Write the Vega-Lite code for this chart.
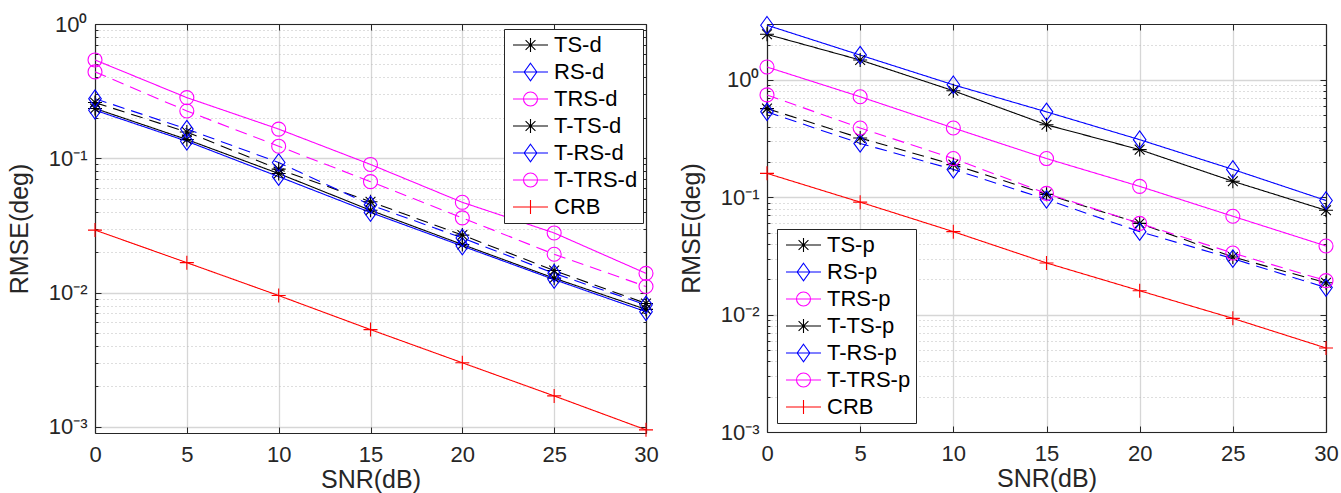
{
  "$schema": "https://vega.github.io/schema/vega-lite/v6.json",
  "datasets": {
    "left": [
      {"s": "TS-d", "x": 0, "y": 0.235}, {"s": "TS-d", "x": 5, "y": 0.138}, {"s": "TS-d", "x": 10, "y": 0.077}, {"s": "TS-d", "x": 15, "y": 0.041}, {"s": "TS-d", "x": 20, "y": 0.0228}, {"s": "TS-d", "x": 25, "y": 0.0128}, {"s": "TS-d", "x": 30, "y": 0.0075},
      {"s": "RS-d", "x": 0, "y": 0.228}, {"s": "RS-d", "x": 5, "y": 0.134}, {"s": "RS-d", "x": 10, "y": 0.073}, {"s": "RS-d", "x": 15, "y": 0.0395}, {"s": "RS-d", "x": 20, "y": 0.0222}, {"s": "RS-d", "x": 25, "y": 0.0125}, {"s": "RS-d", "x": 30, "y": 0.0072},
      {"s": "TRS-d", "x": 0, "y": 0.54}, {"s": "TRS-d", "x": 5, "y": 0.283}, {"s": "TRS-d", "x": 10, "y": 0.165}, {"s": "TRS-d", "x": 15, "y": 0.09}, {"s": "TRS-d", "x": 20, "y": 0.047}, {"s": "TRS-d", "x": 25, "y": 0.0278}, {"s": "TRS-d", "x": 30, "y": 0.0139},
      {"s": "T-TS-d", "x": 0, "y": 0.26}, {"s": "T-TS-d", "x": 5, "y": 0.157}, {"s": "T-TS-d", "x": 10, "y": 0.083}, {"s": "T-TS-d", "x": 15, "y": 0.0475}, {"s": "T-TS-d", "x": 20, "y": 0.0268}, {"s": "T-TS-d", "x": 25, "y": 0.0146}, {"s": "T-TS-d", "x": 30, "y": 0.0083},
      {"s": "T-RS-d", "x": 0, "y": 0.278}, {"s": "T-RS-d", "x": 5, "y": 0.165}, {"s": "T-RS-d", "x": 10, "y": 0.093}, {"s": "T-RS-d", "x": 15, "y": 0.045}, {"s": "T-RS-d", "x": 20, "y": 0.0255}, {"s": "T-RS-d", "x": 25, "y": 0.0139}, {"s": "T-RS-d", "x": 30, "y": 0.0081},
      {"s": "T-TRS-d", "x": 0, "y": 0.44}, {"s": "T-TRS-d", "x": 5, "y": 0.225}, {"s": "T-TRS-d", "x": 10, "y": 0.123}, {"s": "T-TRS-d", "x": 15, "y": 0.067}, {"s": "T-TRS-d", "x": 20, "y": 0.036}, {"s": "T-TRS-d", "x": 25, "y": 0.0193}, {"s": "T-TRS-d", "x": 30, "y": 0.0111},
      {"s": "CRB", "x": 0, "y": 0.0292}, {"s": "CRB", "x": 5, "y": 0.0167}, {"s": "CRB", "x": 10, "y": 0.0095}, {"s": "CRB", "x": 15, "y": 0.0053}, {"s": "CRB", "x": 20, "y": 0.003}, {"s": "CRB", "x": 25, "y": 0.0017}, {"s": "CRB", "x": 30, "y": 0.00095}
    ],
    "right": [
      {"s": "TS-p", "x": 0, "y": 2.45}, {"s": "TS-p", "x": 5, "y": 1.48}, {"s": "TS-p", "x": 10, "y": 0.81}, {"s": "TS-p", "x": 15, "y": 0.415}, {"s": "TS-p", "x": 20, "y": 0.255}, {"s": "TS-p", "x": 25, "y": 0.137}, {"s": "TS-p", "x": 30, "y": 0.0775},
      {"s": "RS-p", "x": 0, "y": 2.93}, {"s": "RS-p", "x": 5, "y": 1.63}, {"s": "RS-p", "x": 10, "y": 0.91}, {"s": "RS-p", "x": 15, "y": 0.535}, {"s": "RS-p", "x": 20, "y": 0.31}, {"s": "RS-p", "x": 25, "y": 0.173}, {"s": "RS-p", "x": 30, "y": 0.094},
      {"s": "TRS-p", "x": 0, "y": 1.29}, {"s": "TRS-p", "x": 5, "y": 0.72}, {"s": "TRS-p", "x": 10, "y": 0.39}, {"s": "TRS-p", "x": 15, "y": 0.214}, {"s": "TRS-p", "x": 20, "y": 0.124}, {"s": "TRS-p", "x": 25, "y": 0.069}, {"s": "TRS-p", "x": 30, "y": 0.0385},
      {"s": "T-TS-p", "x": 0, "y": 0.57}, {"s": "T-TS-p", "x": 5, "y": 0.32}, {"s": "T-TS-p", "x": 10, "y": 0.19}, {"s": "T-TS-p", "x": 15, "y": 0.106}, {"s": "T-TS-p", "x": 20, "y": 0.06}, {"s": "T-TS-p", "x": 25, "y": 0.031}, {"s": "T-TS-p", "x": 30, "y": 0.0187},
      {"s": "T-RS-p", "x": 0, "y": 0.535}, {"s": "T-RS-p", "x": 5, "y": 0.288}, {"s": "T-RS-p", "x": 10, "y": 0.173}, {"s": "T-RS-p", "x": 15, "y": 0.096}, {"s": "T-RS-p", "x": 20, "y": 0.051}, {"s": "T-RS-p", "x": 25, "y": 0.03}, {"s": "T-RS-p", "x": 30, "y": 0.017},
      {"s": "T-TRS-p", "x": 0, "y": 0.746}, {"s": "T-TRS-p", "x": 5, "y": 0.39}, {"s": "T-TRS-p", "x": 10, "y": 0.214}, {"s": "T-TRS-p", "x": 15, "y": 0.108}, {"s": "T-TRS-p", "x": 20, "y": 0.06}, {"s": "T-TRS-p", "x": 25, "y": 0.0335}, {"s": "T-TRS-p", "x": 30, "y": 0.0195},
      {"s": "CRB", "x": 0, "y": 0.16}, {"s": "CRB", "x": 5, "y": 0.091}, {"s": "CRB", "x": 10, "y": 0.051}, {"s": "CRB", "x": 15, "y": 0.0276}, {"s": "CRB", "x": 20, "y": 0.016}, {"s": "CRB", "x": 25, "y": 0.0093}, {"s": "CRB", "x": 30, "y": 0.0052}
    ]
  },
  "padding": {"left": 7, "top": 13, "right": 5, "bottom": 5},
  "spacing": 121,
  "bounds": "flush",
  "resolve": {"scale": {"color": "independent", "shape": "independent", "strokeDash": "independent"}},
  "config": {
    "font": "Liberation Sans",
    "view": {"stroke": null},
    "axis": {"labelFont": "Liberation Sans", "titleFont": "Liberation Sans", "labelColor": "#262626", "titleColor": "#262626", "titleFontWeight": "normal", "domainColor": "#262626", "domainWidth": 1.2, "tickColor": "#262626", "tickWidth": 1},
    "legend": {"title": null, "labelFont": "Liberation Sans", "labelFontSize": 22, "labelColor": "#000000", "symbolSize": 196, "symbolStrokeWidth": 1.1, "symbolOpacity": 1, "labelOffset": 23, "rowPadding": 5, "padding": 5, "strokeColor": "#262626", "fillColor": "#ffffff", "cornerRadius": 0}
  },
  "hconcat": [
    {
      "width": 551, "height": 409,
      "data": {"name": "left"},
      "layer": [
        {
          "mark": {"type": "line", "strokeWidth": 1.1, "clip": true},
          "encoding": {
            "x": {"field": "x", "type": "quantitative", "scale": {"domain": [0, 30], "nice": false, "zero": false},
              "axis": {"orient": "bottom", "values": [0, 5, 10, 15, 20, 25, 30], "title": "SNR(dB)", "titleFontSize": 25, "titlePadding": 2, "labelFontSize": 22, "labelPadding": 17, "labelFlush": false, "tickSize": -6, "grid": true, "gridColor": "#d6d6d6", "gridWidth": 1.3}},
            "y": {"field": "y", "type": "quantitative", "scale": {"type": "log", "domain": [0.0009, 1], "nice": false},
              "axis": {"orient": "left", "values": [0.001, 0.002, 0.003, 0.004, 0.005, 0.006, 0.007, 0.008, 0.009, 0.01, 0.02, 0.03, 0.04, 0.05, 0.06, 0.07, 0.08, 0.09, 0.1, 0.2, 0.3, 0.4, 0.5, 0.6, 0.7, 0.8, 0.9, 1],
                "labelExpr": "datum.value === 1 ? '10⁰' : datum.value === 0.1 ? '10⁻¹' : datum.value === 0.01 ? '10⁻²' : datum.value === 0.001 ? '10⁻³' : ''",
                "labelOverlap": false, "labelFontSize": 22, "labelPadding": 14, "title": "RMSE(deg)", "titleFontSize": 25, "titlePadding": 16,
                "grid": true,
                "gridDash": {"condition": {"test": "indexof([1,0.1,0.01,0.001], datum.value) >= 0", "value": []}, "value": [1, 3]},
                "gridColor": {"condition": {"test": "indexof([1,0.1,0.01,0.001], datum.value) >= 0", "value": "#d6d6d6"}, "value": "#bdbdbd"},
                "gridWidth": {"condition": {"test": "indexof([1,0.1,0.01,0.001], datum.value) >= 0", "value": 1.3}, "value": 1},
                "tickSize": {"condition": {"test": "indexof([1,0.1,0.01,0.001], datum.value) >= 0", "value": -6}, "value": -3}}},
            "color": {"field": "s", "type": "nominal",
              "scale": {"domain": ["TS-d", "RS-d", "TRS-d", "T-TS-d", "T-RS-d", "T-TRS-d", "CRB"], "range": ["#000000", "#0000ff", "#ff00ff", "#000000", "#0000ff", "#ff00ff", "#ff0000"]},
              "legend": null},
            "strokeDash": {"field": "s", "type": "nominal",
              "scale": {"domain": ["TS-d", "RS-d", "TRS-d", "T-TS-d", "T-RS-d", "T-TRS-d", "CRB"], "range": [[1, 0], [1, 0], [1, 0], [12, 7], [12, 7], [12, 7], [1, 0]]}, "legend": null}
          }
        },
        {
          "mark": {"type": "point", "filled": false, "size": 196, "strokeWidth": 1.1, "opacity": 1, "clip": false},
          "encoding": {
            "x": {"field": "x", "type": "quantitative", "scale": {"domain": [0, 30], "nice": false, "zero": false},
              "axis": {"orient": "top", "values": [0, 5, 10, 15, 20, 25, 30], "labels": false, "title": null, "grid": false, "tickSize": -6}},
            "y": {"field": "y", "type": "quantitative", "scale": {"type": "log", "domain": [0.0009, 1], "nice": false},
              "axis": {"orient": "right", "values": [0.001, 0.002, 0.003, 0.004, 0.005, 0.006, 0.007, 0.008, 0.009, 0.01, 0.02, 0.03, 0.04, 0.05, 0.06, 0.07, 0.08, 0.09, 0.1, 0.2, 0.3, 0.4, 0.5, 0.6, 0.7, 0.8, 0.9, 1], "labels": false, "title": null, "grid": false,
                "tickSize": {"condition": {"test": "indexof([1,0.1,0.01,0.001], datum.value) >= 0", "value": -6}, "value": -3}}},
            "color": {"field": "s", "type": "nominal",
              "scale": {"domain": ["TS-d", "RS-d", "TRS-d", "T-TS-d", "T-RS-d", "T-TRS-d", "CRB"], "range": ["#000000", "#0000ff", "#ff00ff", "#000000", "#0000ff", "#ff00ff", "#ff0000"]},
              "legend": null},
            "shape": {"field": "s", "type": "nominal",
              "scale": {"domain": ["TS-d", "RS-d", "TRS-d", "T-TS-d", "T-RS-d", "T-TRS-d", "CRB"], "range": ["M0,-1V1M-1,0H1M-0.7,-0.7L0.7,0.7M-0.7,0.7L0.7,-0.7", "M0,-1.25L0.9,0L0,1.25L-0.9,0Z", "circle", "M0,-1V1M-1,0H1M-0.7,-0.7L0.7,0.7M-0.7,0.7L0.7,-0.7", "M0,-1.25L0.9,0L0,1.25L-0.9,0Z", "circle", "M0,-1V1M-1,0H1"]},
              "legend": null}
          }
        },
        {
          "mark": {"type": "point", "filled": false, "size": 196, "strokeWidth": 1.1, "opacity": 0, "clip": true},
          "encoding": {
            "x": {"field": "x", "type": "quantitative", "axis": null},
            "y": {"field": "y", "type": "quantitative", "axis": null},
            "color": {"field": "s", "type": "nominal",
              "scale": {"domain": ["TS-d", "RS-d", "TRS-d", "T-TS-d", "T-RS-d", "T-TRS-d", "CRB"], "range": ["#000000", "#0000ff", "#ff00ff", "#000000", "#0000ff", "#ff00ff", "#ff0000"]},
              "legend": {"orient": "none", "legendX": 409, "legendY": 5}},
            "shape": {"field": "s", "type": "nominal",
              "scale": {"domain": ["TS-d", "RS-d", "TRS-d", "T-TS-d", "T-RS-d", "T-TRS-d", "CRB"], "range": ["M-1,0H4M1.5,-1V1M0.8,-0.7L2.2,0.7M0.8,0.7L2.2,-0.7", "M-1,0H4M1.5,-1.25L2.4,0L1.5,1.25L0.6,0Z", "M-1,0H4M2.5,0A1,1,0,1,1,0.5,0A1,1,0,1,1,2.5,0", "M-1,0H4M1.5,-1V1M0.8,-0.7L2.2,0.7M0.8,0.7L2.2,-0.7", "M-1,0H4M1.5,-1.25L2.4,0L1.5,1.25L0.6,0Z", "M-1,0H4M2.5,0A1,1,0,1,1,0.5,0A1,1,0,1,1,2.5,0", "M-1,0H4M1.5,-1V1"]},
              "legend": {"orient": "none", "legendX": 409, "legendY": 5}}
          }
        }
      ],
      "resolve": {"axis": {"x": "independent", "y": "independent"}, "scale": {"shape": "independent", "color": "independent", "strokeDash": "independent"}}
    },
    {
      "width": 559, "height": 408,
      "data": {"name": "right"},
      "layer": [
        {
          "mark": {"type": "line", "strokeWidth": 1.1, "clip": true},
          "encoding": {
            "x": {"field": "x", "type": "quantitative", "scale": {"domain": [0, 30], "nice": false, "zero": false},
              "axis": {"orient": "bottom", "values": [0, 5, 10, 15, 20, 25, 30], "title": "SNR(dB)", "titleFontSize": 25, "titlePadding": 2, "labelFontSize": 22, "labelPadding": 17, "labelFlush": false, "tickSize": -6, "grid": true, "gridColor": "#d6d6d6", "gridWidth": 1.3}},
            "y": {"field": "y", "type": "quantitative", "scale": {"type": "log", "domain": [0.001, 3], "nice": false},
              "axis": {"orient": "left", "values": [0.001, 0.002, 0.003, 0.004, 0.005, 0.006, 0.007, 0.008, 0.009, 0.01, 0.02, 0.03, 0.04, 0.05, 0.06, 0.07, 0.08, 0.09, 0.1, 0.2, 0.3, 0.4, 0.5, 0.6, 0.7, 0.8, 0.9, 1, 2],
                "labelExpr": "datum.value === 1 ? '10⁰' : datum.value === 0.1 ? '10⁻¹' : datum.value === 0.01 ? '10⁻²' : datum.value === 0.001 ? '10⁻³' : ''",
                "labelOverlap": false, "labelFontSize": 22, "labelPadding": 14, "title": "RMSE(deg)", "titleFontSize": 25, "titlePadding": 16,
                "grid": true,
                "gridDash": {"condition": {"test": "indexof([1,0.1,0.01,0.001], datum.value) >= 0", "value": []}, "value": [1, 3]},
                "gridColor": {"condition": {"test": "indexof([1,0.1,0.01,0.001], datum.value) >= 0", "value": "#d6d6d6"}, "value": "#bdbdbd"},
                "gridWidth": {"condition": {"test": "indexof([1,0.1,0.01,0.001], datum.value) >= 0", "value": 1.3}, "value": 1},
                "tickSize": {"condition": {"test": "indexof([1,0.1,0.01,0.001], datum.value) >= 0", "value": -6}, "value": -3}}},
            "color": {"field": "s", "type": "nominal",
              "scale": {"domain": ["TS-p", "RS-p", "TRS-p", "T-TS-p", "T-RS-p", "T-TRS-p", "CRB"], "range": ["#000000", "#0000ff", "#ff00ff", "#000000", "#0000ff", "#ff00ff", "#ff0000"]},
              "legend": null},
            "strokeDash": {"field": "s", "type": "nominal",
              "scale": {"domain": ["TS-p", "RS-p", "TRS-p", "T-TS-p", "T-RS-p", "T-TRS-p", "CRB"], "range": [[1, 0], [1, 0], [1, 0], [12, 7], [12, 7], [12, 7], [1, 0]]}, "legend": null}
          }
        },
        {
          "mark": {"type": "point", "filled": false, "size": 196, "strokeWidth": 1.1, "opacity": 1, "clip": false},
          "encoding": {
            "x": {"field": "x", "type": "quantitative", "scale": {"domain": [0, 30], "nice": false, "zero": false},
              "axis": {"orient": "top", "values": [0, 5, 10, 15, 20, 25, 30], "labels": false, "title": null, "grid": false, "tickSize": -6}},
            "y": {"field": "y", "type": "quantitative", "scale": {"type": "log", "domain": [0.001, 3], "nice": false},
              "axis": {"orient": "right", "values": [0.001, 0.002, 0.003, 0.004, 0.005, 0.006, 0.007, 0.008, 0.009, 0.01, 0.02, 0.03, 0.04, 0.05, 0.06, 0.07, 0.08, 0.09, 0.1, 0.2, 0.3, 0.4, 0.5, 0.6, 0.7, 0.8, 0.9, 1, 2], "labels": false, "title": null, "grid": false,
                "tickSize": {"condition": {"test": "indexof([1,0.1,0.01,0.001], datum.value) >= 0", "value": -6}, "value": -3}}},
            "color": {"field": "s", "type": "nominal",
              "scale": {"domain": ["TS-p", "RS-p", "TRS-p", "T-TS-p", "T-RS-p", "T-TRS-p", "CRB"], "range": ["#000000", "#0000ff", "#ff00ff", "#000000", "#0000ff", "#ff00ff", "#ff0000"]},
              "legend": null},
            "shape": {"field": "s", "type": "nominal",
              "scale": {"domain": ["TS-p", "RS-p", "TRS-p", "T-TS-p", "T-RS-p", "T-TRS-p", "CRB"], "range": ["M0,-1V1M-1,0H1M-0.7,-0.7L0.7,0.7M-0.7,0.7L0.7,-0.7", "M0,-1.25L0.9,0L0,1.25L-0.9,0Z", "circle", "M0,-1V1M-1,0H1M-0.7,-0.7L0.7,0.7M-0.7,0.7L0.7,-0.7", "M0,-1.25L0.9,0L0,1.25L-0.9,0Z", "circle", "M0,-1V1M-1,0H1"]},
              "legend": null}
          }
        },
        {
          "mark": {"type": "point", "filled": false, "size": 196, "strokeWidth": 1.1, "opacity": 0, "clip": true},
          "encoding": {
            "x": {"field": "x", "type": "quantitative", "axis": null},
            "y": {"field": "y", "type": "quantitative", "axis": null},
            "color": {"field": "s", "type": "nominal",
              "scale": {"domain": ["TS-p", "RS-p", "TRS-p", "T-TS-p", "T-RS-p", "T-TRS-p", "CRB"], "range": ["#000000", "#0000ff", "#ff00ff", "#000000", "#0000ff", "#ff00ff", "#ff0000"]},
              "legend": {"orient": "none", "legendX": 10, "legendY": 205}},
            "shape": {"field": "s", "type": "nominal",
              "scale": {"domain": ["TS-p", "RS-p", "TRS-p", "T-TS-p", "T-RS-p", "T-TRS-p", "CRB"], "range": ["M-1,0H4M1.5,-1V1M0.8,-0.7L2.2,0.7M0.8,0.7L2.2,-0.7", "M-1,0H4M1.5,-1.25L2.4,0L1.5,1.25L0.6,0Z", "M-1,0H4M2.5,0A1,1,0,1,1,0.5,0A1,1,0,1,1,2.5,0", "M-1,0H4M1.5,-1V1M0.8,-0.7L2.2,0.7M0.8,0.7L2.2,-0.7", "M-1,0H4M1.5,-1.25L2.4,0L1.5,1.25L0.6,0Z", "M-1,0H4M2.5,0A1,1,0,1,1,0.5,0A1,1,0,1,1,2.5,0", "M-1,0H4M1.5,-1V1"]},
              "legend": {"orient": "none", "legendX": 10, "legendY": 205}}
          }
        }
      ],
      "resolve": {"axis": {"x": "independent", "y": "independent"}, "scale": {"shape": "independent", "color": "independent", "strokeDash": "independent"}}
    }
  ]
}
